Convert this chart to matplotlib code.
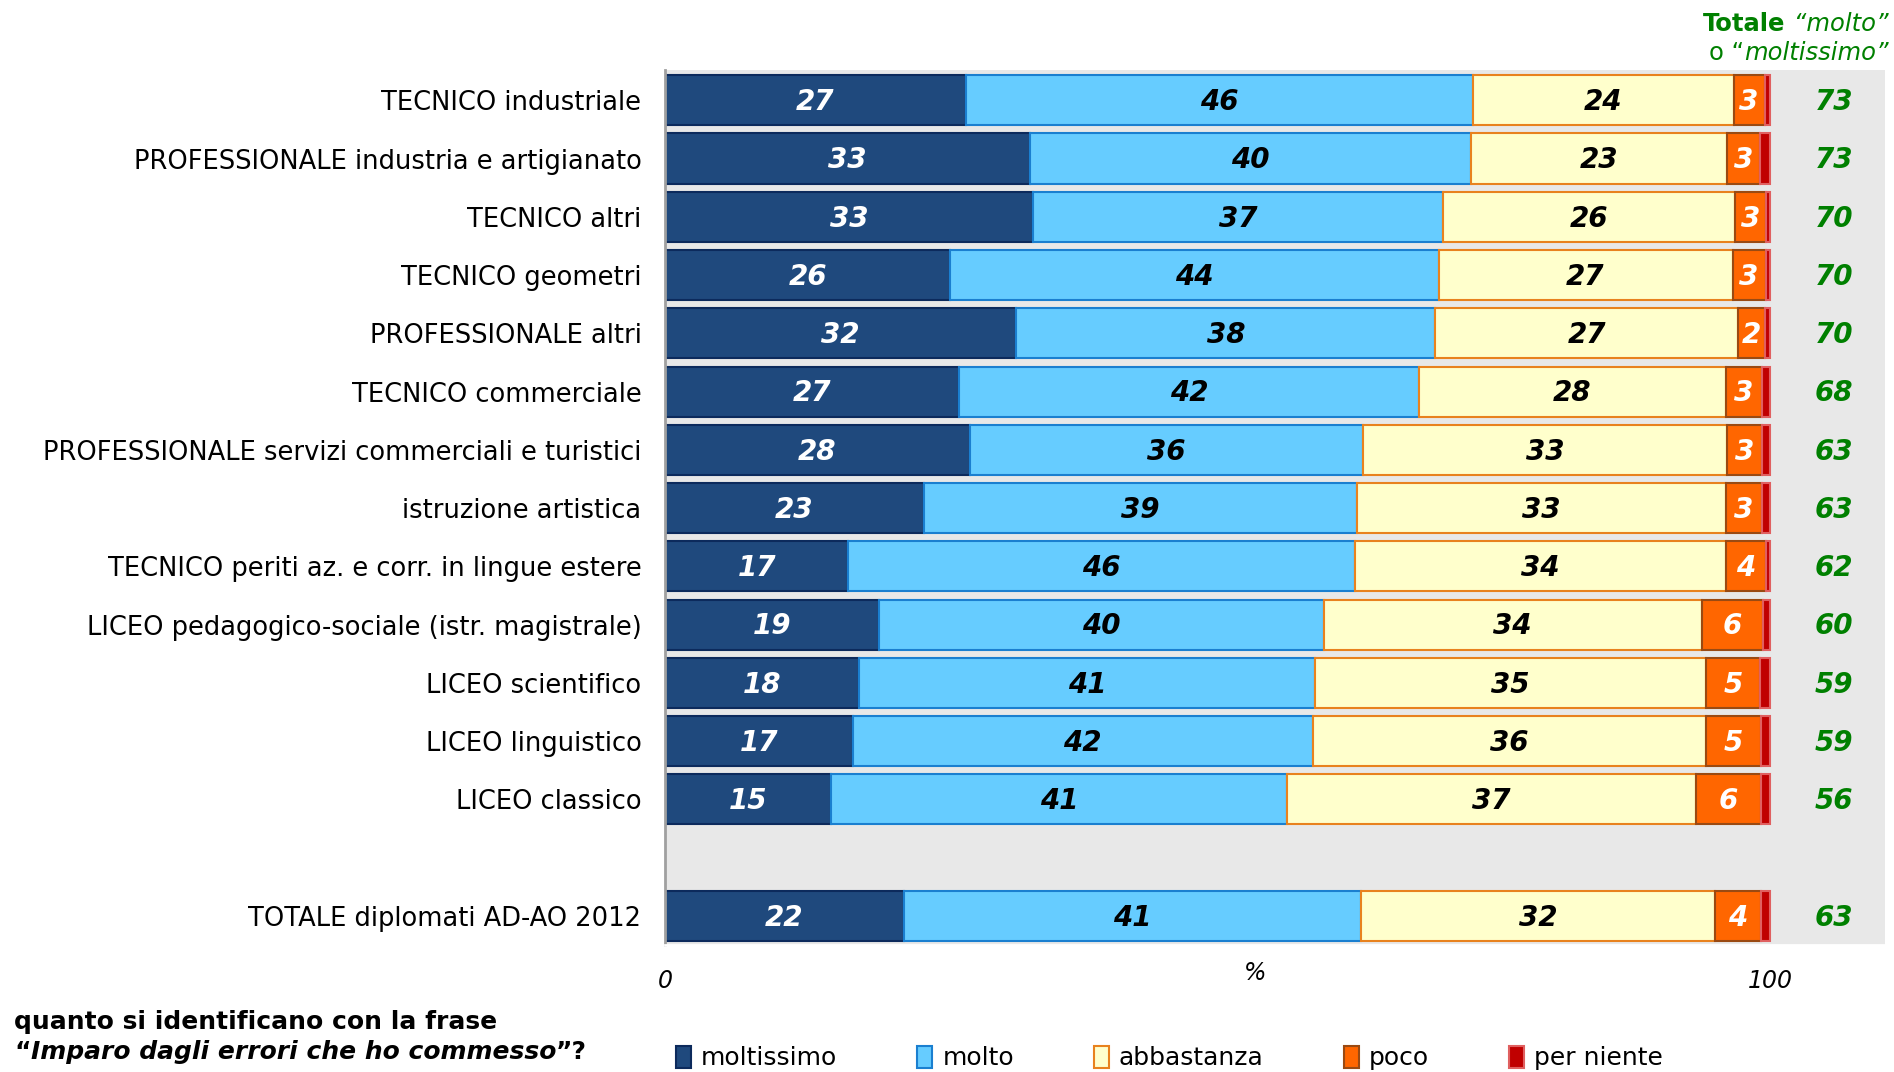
import matplotlib.pyplot as plt
from matplotlib.transforms import blended_transform_factory

categories = [
    "TECNICO industriale",
    "PROFESSIONALE industria e artigianato",
    "TECNICO altri",
    "TECNICO geometri",
    "PROFESSIONALE altri",
    "TECNICO commerciale",
    "PROFESSIONALE servizi commerciali e turistici",
    "istruzione artistica",
    "TECNICO periti az. e corr. in lingue estere",
    "LICEO pedagogico-sociale (istr. magistrale)",
    "LICEO scientifico",
    "LICEO linguistico",
    "LICEO classico",
    "TOTALE diplomati AD-AO 2012",
]
# percentages (estimated to one decimal from the bar lengths)
moltissimo = [27.2, 33.0, 33.3, 25.8, 31.8, 26.6, 27.6, 23.4, 16.6, 19.4, 17.6, 17.0, 15.0, 21.6]
molto = [45.9, 39.9, 37.1, 44.2, 37.9, 41.6, 35.6, 39.2, 45.8, 40.2, 41.2, 41.6, 41.3, 41.4]
abbastanza = [23.6, 23.2, 26.4, 26.6, 27.4, 27.8, 32.9, 33.4, 33.6, 34.2, 35.4, 35.6, 37.0, 32.0]
poco = [2.8, 3.0, 2.8, 3.0, 2.4, 3.3, 3.2, 3.3, 3.6, 5.6, 4.9, 5.0, 5.9, 4.2]
per_niente = [0.5, 0.9, 0.4, 0.4, 0.5, 0.7, 0.7, 0.7, 0.4, 0.6, 0.9, 0.8, 0.8, 0.8]
totale = [73, 73, 70, 70, 70, 68, 63, 63, 62, 60, 59, 59, 56, 63]

ypos = list(range(13)) + [14]

series = [
    ("moltissimo", moltissimo, "#1f497d", "#0c2a5c", "white"),
    ("molto", molto, "#66ccff", "#1a7fd0", "black"),
    ("abbastanza", abbastanza, "#ffffcc", "#e8821e", "black"),
    ("poco", poco, "#ff6600", "#9a4a12", "white"),
    ("per niente", per_niente, "#c00000", "#e06060", None),
]

fig = plt.figure(figsize=(18.94, 10.72), dpi=100)
ax = fig.add_axes([665 / 1894, 1 - 945 / 1072, 1220 / 1894, 875 / 1072])
ax.set_facecolor("#e8e8e8")

left = [0] * len(ypos)
handles = []
for name, vals, fc, ec, tc in series:
    b = ax.barh(ypos, vals, left=left, height=0.86, color=fc,
                edgecolor=ec, linewidth=1.5, label=name)
    handles.append(b)
    if tc:
        for y, l, v in zip(ypos, left, vals):
            ax.text(l + v / 2, y + 0.03, f"{v:.0f}", ha="center", va="center",
                    color=tc, fontsize=20, fontweight="bold", style="italic")
    left = [l + v for l, v in zip(left, vals)]

for y, t in zip(ypos, totale):
    ax.text(105.8, y + 0.03, str(t), ha="center", va="center", color="#008000",
            fontsize=20, fontweight="bold", style="italic")

ax.set_xlim(0, 110.4)
ax.set_ylim(14.5, -0.52)
ax.set_yticks(ypos)
ax.set_yticklabels(categories, fontsize=18.5)
ax.set_xticks([0, 100])
ax.set_xticklabels(["0", "100"], fontsize=17, style="italic")
ax.tick_params(length=0)
ax.tick_params(axis="y", pad=17)
ax.tick_params(axis="x", pad=17.5)
for s in ["top", "right"]:
    ax.spines[s].set_visible(False)
ax.spines["left"].set_color("#a0a0a0")
ax.spines["left"].set_linewidth(2)
ax.spines["bottom"].set_color("white")
ax.spines["bottom"].set_linewidth(2)

trans = blended_transform_factory(ax.transData, ax.transAxes)
ax.text(53.4, -0.032, "%", transform=trans, ha="center", va="center",
        fontsize=17, style="italic")

fig.canvas.draw()
renderer = fig.canvas.get_renderer()


def pieces(parts, x, y, color, size, right=False):
    texts = []
    cx = x
    for s, weight, style in parts:
        t = fig.text(cx, y, s, fontsize=size, fontweight=weight, style=style,
                     color=color, ha="left", va="center")
        w = t.get_window_extent(renderer).width / fig.bbox.width
        texts.append(t)
        cx += w
    if right:
        shift = cx - x
        for t in texts:
            px, py = t.get_position()
            t.set_position((px - shift, py))


pieces([("Totale", "bold", "normal"), (" \u201cmolto\u201d", "normal", "italic")],
       0.997, 1 - 24 / 1072, "#008000", 17.5, right=True)
pieces([("o \u201c", "normal", "normal"), ("moltissimo\u201d", "normal", "italic")],
       0.997, 1 - 53 / 1072, "#008000", 17.5, right=True)

pieces([("quanto si identificano con la frase", "bold", "normal")],
       14 / 1894, 1 - 1022 / 1072, "black", 18)
pieces([("\u201c", "bold", "normal"),
        ("Imparo dagli errori che ho commesso", "bold", "italic"),
        ("\u201d?", "bold", "normal")],
       14 / 1894, 1 - 1052 / 1072, "black", 18)

fig.legend(handles=handles, loc="center left",
           bbox_to_anchor=(676 / 1894, 1 - 1058 / 1072), ncol=5,
           frameon=False, fontsize=18, handlelength=0.6, handleheight=1.0,
           handletextpad=0.4, columnspacing=3.2, borderpad=0, borderaxespad=0)

fig.savefig("out.png", dpi=100)
